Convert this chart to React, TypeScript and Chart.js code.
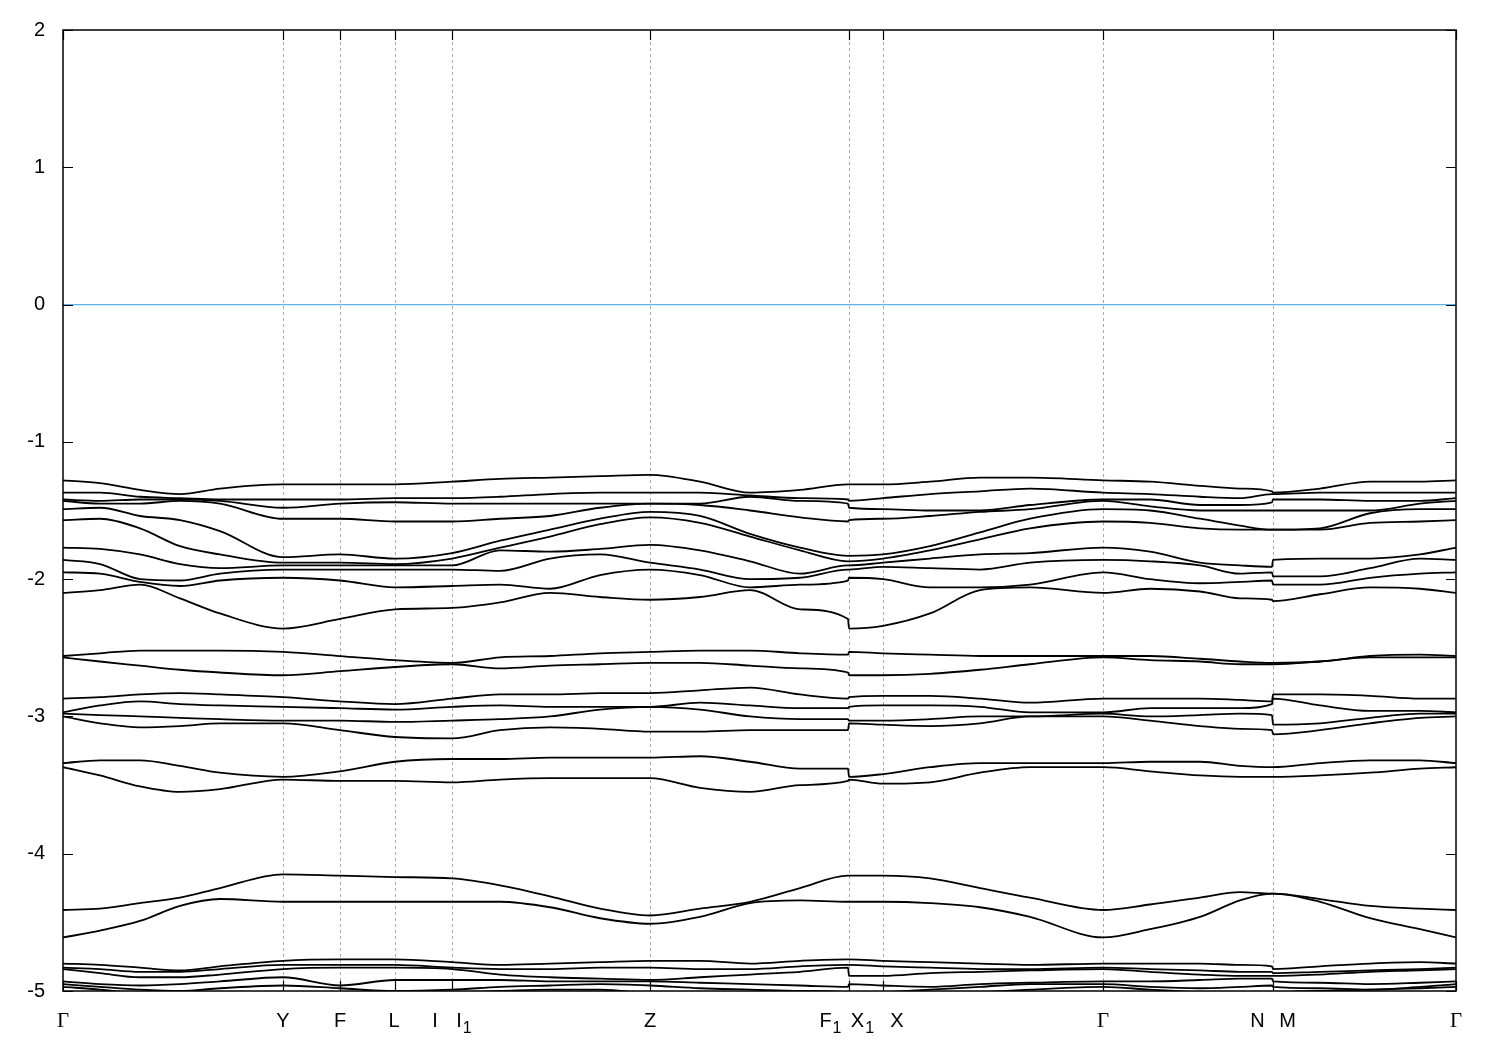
import { useEffect, useRef } from "react";
import { Chart, registerables } from "chart.js";

Chart.register(...registerables);

// k-path coordinate of each sampled point (path-length units); adjacent near-equal values mark path breaks
const K = [0, 37, 77, 117, 157, 220, 277, 332, 389, 437, 487, 537, 587, 637, 687, 737, 785, 786, 820, 867, 917, 967, 1040, 1087, 1137, 1177, 1209, 1210, 1257, 1307, 1357, 1393];

// high-symmetry points
const KPOINTS = [0, 220, 277, 332, 389, 587, 785.5, 820, 1040, 1209.5, 1393];
const KPOINT_LABELS = ["Γ", "Y", "F", "L", "I|I_1", "Z", "F_1|X_1", "X", "Γ", "N|M", "Γ"];

const Y_TICKS = [2, 1, 0, -1, -2, -3, -4, -5];
const FERMI_LEVEL = 0;

// band energies (eV) at each K
const BAND_01 = [-1.28, -1.30, -1.35, -1.38, -1.34, -1.31, -1.31, -1.31, -1.29, -1.27, -1.26, -1.25, -1.24, -1.29, -1.37, -1.35, -1.31, -1.31, -1.31, -1.29, -1.26, -1.26, -1.28, -1.29, -1.32, -1.34, -1.36, -1.37, -1.34, -1.29, -1.29, -1.28];
const BAND_02 = [-1.37, -1.37, -1.40, -1.41, -1.42, -1.42, -1.42, -1.41, -1.41, -1.40, -1.38, -1.37, -1.37, -1.37, -1.39, -1.41, -1.42, -1.43, -1.41, -1.38, -1.36, -1.34, -1.37, -1.38, -1.40, -1.41, -1.38, -1.38, -1.37, -1.37, -1.37, -1.37];
const BAND_03 = [-1.42, -1.43, -1.42, -1.42, -1.43, -1.48, -1.45, -1.44, -1.45, -1.45, -1.45, -1.45, -1.45, -1.45, -1.40, -1.43, -1.45, -1.48, -1.49, -1.50, -1.50, -1.46, -1.42, -1.42, -1.46, -1.46, -1.44, -1.42, -1.42, -1.43, -1.43, -1.41];
const BAND_04 = [-1.43, -1.45, -1.45, -1.43, -1.45, -1.56, -1.56, -1.58, -1.58, -1.56, -1.54, -1.48, -1.45, -1.46, -1.50, -1.55, -1.58, -1.57, -1.56, -1.54, -1.51, -1.49, -1.43, -1.47, -1.50, -1.50, -1.50, -1.50, -1.50, -1.50, -1.45, -1.43];
const BAND_05 = [-1.49, -1.48, -1.54, -1.57, -1.65, -1.84, -1.82, -1.85, -1.81, -1.72, -1.64, -1.56, -1.51, -1.54, -1.67, -1.77, -1.83, -1.83, -1.82, -1.76, -1.66, -1.56, -1.49, -1.50, -1.56, -1.61, -1.64, -1.64, -1.63, -1.52, -1.49, -1.49];
const BAND_06 = [-1.57, -1.56, -1.63, -1.76, -1.82, -1.88, -1.88, -1.89, -1.85, -1.77, -1.69, -1.60, -1.55, -1.59, -1.69, -1.79, -1.87, -1.87, -1.85, -1.79, -1.71, -1.63, -1.58, -1.59, -1.63, -1.64, -1.64, -1.64, -1.64, -1.59, -1.58, -1.57];
const BAND_07 = [-1.77, -1.78, -1.82, -1.89, -1.92, -1.90, -1.90, -1.90, -1.90, -1.79, -1.80, -1.78, -1.75, -1.79, -1.87, -1.96, -1.90, -1.90, -1.88, -1.85, -1.82, -1.81, -1.77, -1.80, -1.88, -1.90, -1.91, -1.86, -1.85, -1.85, -1.82, -1.77];
const BAND_08 = [-1.86, -1.89, -2.00, -2.01, -1.96, -1.93, -1.93, -1.93, -1.93, -1.94, -1.85, -1.82, -1.88, -1.93, -2.00, -1.99, -1.93, -1.93, -1.91, -1.92, -1.93, -1.88, -1.86, -1.87, -1.90, -1.96, -1.95, -1.98, -1.98, -1.92, -1.85, -1.86];
const BAND_09 = [-1.95, -1.96, -2.02, -2.05, -2.01, -1.99, -2.01, -2.06, -2.05, -2.04, -2.07, -1.97, -1.93, -1.97, -2.06, -2.04, -2.01, -1.99, -2.00, -2.06, -2.06, -2.04, -1.95, -2.00, -2.03, -2.02, -2.01, -2.04, -2.04, -1.99, -1.96, -1.95];
const BAND_10 = [-2.10, -2.08, -2.04, -2.14, -2.25, -2.36, -2.29, -2.22, -2.21, -2.17, -2.10, -2.13, -2.15, -2.13, -2.08, -2.22, -2.29, -2.36, -2.34, -2.25, -2.08, -2.06, -2.10, -2.07, -2.09, -2.14, -2.15, -2.16, -2.11, -2.06, -2.07, -2.10];
const BAND_11 = [-2.56, -2.54, -2.52, -2.52, -2.52, -2.53, -2.56, -2.59, -2.61, -2.57, -2.56, -2.54, -2.53, -2.52, -2.52, -2.54, -2.55, -2.53, -2.54, -2.55, -2.56, -2.56, -2.56, -2.56, -2.58, -2.60, -2.61, -2.61, -2.60, -2.56, -2.55, -2.56];
const BAND_12 = [-2.57, -2.60, -2.63, -2.66, -2.68, -2.70, -2.67, -2.64, -2.62, -2.65, -2.63, -2.62, -2.61, -2.61, -2.63, -2.65, -2.68, -2.70, -2.70, -2.69, -2.66, -2.62, -2.57, -2.59, -2.60, -2.62, -2.62, -2.62, -2.60, -2.57, -2.57, -2.57];
const BAND_13 = [-2.87, -2.86, -2.84, -2.83, -2.84, -2.86, -2.89, -2.91, -2.87, -2.84, -2.84, -2.83, -2.83, -2.81, -2.79, -2.84, -2.87, -2.86, -2.85, -2.85, -2.87, -2.90, -2.87, -2.87, -2.87, -2.88, -2.89, -2.84, -2.84, -2.85, -2.87, -2.87];
const BAND_14 = [-2.97, -2.92, -2.89, -2.91, -2.92, -2.93, -2.94, -2.95, -2.93, -2.92, -2.93, -2.93, -2.93, -2.90, -2.92, -2.94, -2.94, -2.93, -2.92, -2.92, -2.93, -2.97, -2.97, -2.94, -2.94, -2.94, -2.91, -2.87, -2.92, -2.96, -2.96, -2.97];
const BAND_15 = [-2.98, -2.99, -3.00, -3.01, -3.02, -3.03, -3.03, -3.04, -3.03, -3.02, -3.00, -2.95, -2.93, -2.95, -3.00, -3.02, -3.02, -3.03, -3.03, -3.02, -3.00, -3.00, -2.98, -3.00, -2.99, -2.98, -2.99, -3.06, -3.05, -3.01, -2.98, -2.98];
const BAND_16 = [-3.00, -3.05, -3.08, -3.07, -3.05, -3.05, -3.10, -3.15, -3.16, -3.10, -3.08, -3.09, -3.11, -3.11, -3.10, -3.10, -3.10, -3.05, -3.06, -3.07, -3.05, -3.00, -3.00, -3.03, -3.07, -3.09, -3.10, -3.13, -3.10, -3.05, -3.01, -3.00];
const BAND_17 = [-3.34, -3.32, -3.32, -3.36, -3.41, -3.44, -3.40, -3.33, -3.31, -3.31, -3.30, -3.30, -3.30, -3.29, -3.33, -3.38, -3.38, -3.44, -3.42, -3.37, -3.34, -3.34, -3.34, -3.33, -3.33, -3.36, -3.37, -3.37, -3.34, -3.32, -3.32, -3.34];
const BAND_18 = [-3.37, -3.43, -3.51, -3.55, -3.53, -3.46, -3.47, -3.47, -3.48, -3.46, -3.45, -3.45, -3.45, -3.52, -3.55, -3.50, -3.47, -3.46, -3.49, -3.48, -3.41, -3.37, -3.37, -3.40, -3.43, -3.44, -3.44, -3.44, -3.43, -3.41, -3.38, -3.37];
const BAND_19 = [-4.41, -4.40, -4.36, -4.32, -4.25, -4.15, -4.16, -4.17, -4.18, -4.23, -4.31, -4.40, -4.45, -4.40, -4.35, -4.25, -4.16, -4.16, -4.16, -4.18, -4.25, -4.32, -4.41, -4.37, -4.32, -4.28, -4.29, -4.29, -4.33, -4.38, -4.40, -4.41];
const BAND_20 = [-4.61, -4.56, -4.49, -4.38, -4.33, -4.35, -4.35, -4.35, -4.35, -4.35, -4.39, -4.47, -4.51, -4.46, -4.36, -4.34, -4.35, -4.35, -4.35, -4.36, -4.39, -4.46, -4.61, -4.55, -4.46, -4.34, -4.29, -4.29, -4.35, -4.47, -4.55, -4.61];
const BAND_21 = [-4.80, -4.81, -4.83, -4.85, -4.82, -4.78, -4.77, -4.77, -4.79, -4.81, -4.80, -4.79, -4.78, -4.78, -4.80, -4.78, -4.77, -4.77, -4.78, -4.79, -4.80, -4.81, -4.80, -4.80, -4.80, -4.81, -4.82, -4.84, -4.82, -4.80, -4.79, -4.80];
const BAND_22 = [-4.83, -4.84, -4.86, -4.86, -4.84, -4.81, -4.81, -4.81, -4.83, -4.84, -4.84, -4.83, -4.83, -4.84, -4.84, -4.82, -4.81, -4.81, -4.82, -4.83, -4.84, -4.84, -4.83, -4.84, -4.85, -4.86, -4.86, -4.87, -4.86, -4.85, -4.84, -4.83];
const BAND_23 = [-4.84, -4.87, -4.90, -4.90, -4.88, -4.84, -4.83, -4.83, -4.84, -4.88, -4.90, -4.91, -4.92, -4.90, -4.88, -4.86, -4.83, -4.89, -4.89, -4.87, -4.86, -4.85, -4.84, -4.86, -4.88, -4.89, -4.89, -4.89, -4.88, -4.86, -4.85, -4.84];
const BAND_24 = [-4.93, -4.95, -4.96, -4.95, -4.93, -4.90, -4.96, -4.92, -4.92, -4.92, -4.93, -4.93, -4.93, -4.94, -4.95, -4.96, -4.97, -4.95, -4.96, -4.97, -4.95, -4.94, -4.93, -4.93, -4.92, -4.91, -4.91, -4.93, -4.94, -4.95, -4.94, -4.93];
const BAND_25 = [-4.95, -4.97, -4.99, -5.00, -4.98, -4.96, -4.98, -5.00, -4.99, -4.97, -4.96, -4.95, -4.96, -4.98, -4.99, -5.00, -5.01, -5.02, -5.01, -4.99, -4.97, -4.95, -4.95, -4.97, -4.98, -4.97, -4.96, -4.97, -4.98, -4.99, -4.97, -4.95];
const BAND_26 = [-4.97, -4.99, -5.02, -5.04, -5.03, -5.01, -5.03, -5.02, -5.01, -5.00, -4.99, -4.99, -5.02, -5.04, -5.02, -5.01, -5.03, -5.05, -5.04, -5.03, -5.01, -4.99, -4.97, -4.99, -5.01, -5.03, -5.04, -5.02, -5.00, -4.99, -4.98, -4.97];

const BANDS = [
  BAND_01, BAND_02, BAND_03, BAND_04, BAND_05, BAND_06, BAND_07, BAND_08, BAND_09, BAND_10,
  BAND_11, BAND_12, BAND_13, BAND_14, BAND_15, BAND_16, BAND_17, BAND_18, BAND_19, BAND_20,
  BAND_21, BAND_22, BAND_23, BAND_24, BAND_25, BAND_26,
];

// pixel shifts of label parts relative to their k-point (style only)
const LABEL_SHIFT: number[][] = [[0], [0], [0], [-1], [-17, 7], [0], [-23, 9], [14], [0], [-15, 15], [0]];

const SANS = '"Liberation Sans", Arial, Helvetica, sans-serif';
const SERIF = '"Liberation Serif", "Times New Roman", serif';

function drawPart(ctx: CanvasRenderingContext2D, part: string, cx: number, cy: number) {
  const [base, sub] = part.split("_");
  const isGreek = base === "Γ";
  ctx.font = isGreek ? `21px ${SERIF}` : `20px ${SANS}`;
  ctx.textAlign = "center";
  ctx.textBaseline = "middle";
  ctx.fillStyle = "#000";
  ctx.fillText(base, cx, cy);
  if (sub) {
    const w = ctx.measureText(base).width;
    ctx.font = `16px ${SANS}`;
    ctx.textAlign = "left";
    ctx.fillText(sub, cx + w / 2 + 1, cy + 8);
  }
}

const bandPlugin = {
  id: "bandDecor",
  beforeDatasetsDraw(chart: any) {
    const { ctx, chartArea: a, scales } = chart;
    const x = scales.x;
    ctx.save();
    ctx.strokeStyle = "#a8a8a8";
    ctx.lineWidth = 1;
    ctx.setLineDash([3, 3]);
    KPOINTS.forEach((k, i) => {
      if (i === 0 || i === KPOINTS.length - 1) return;
      const px = Math.round(x.getPixelForValue(k)) + 0.5;
      ctx.beginPath();
      ctx.moveTo(px, a.top);
      ctx.lineTo(px, a.bottom);
      ctx.stroke();
    });
    ctx.restore();
  },
  afterDatasetsDraw(chart: any) {
    const { ctx, chartArea: a, scales } = chart;
    const x = scales.x;
    const y = scales.y;
    ctx.save();
    ctx.strokeStyle = "#000";
    ctx.lineWidth = 1.5;
    ctx.setLineDash([]);
    ctx.strokeRect(a.left, a.top, a.right - a.left, a.bottom - a.top);
    ctx.lineWidth = 1.2;
    Y_TICKS.forEach((v) => {
      const py = Math.round(y.getPixelForValue(v)) + 0.5;
      ctx.beginPath();
      ctx.moveTo(a.left, py);
      ctx.lineTo(a.left + 10, py);
      ctx.moveTo(a.right, py);
      ctx.lineTo(a.right - 10, py);
      ctx.stroke();
    });
    KPOINTS.forEach((k) => {
      const px = Math.round(x.getPixelForValue(k)) + 0.5;
      ctx.beginPath();
      ctx.moveTo(px, a.bottom);
      ctx.lineTo(px, a.bottom - 10);
      ctx.moveTo(px, a.top);
      ctx.lineTo(px, a.top + 10);
      ctx.stroke();
    });
    KPOINT_LABELS.forEach((label, i) => {
      const px = x.getPixelForValue(KPOINTS[i]);
      const parts = label.split("|");
      parts.forEach((part, j) => {
        drawPart(ctx, part, px + (LABEL_SHIFT[i][j] ?? 0), a.bottom + 30);
      });
    });
    ctx.restore();
  },
};

export default function App() {
  const ref = useRef<HTMLCanvasElement>(null);
  useEffect(() => {
    if (!ref.current) return;
    const datasets: any[] = BANDS.map((band, b) => ({
      label: `band ${b + 1}`,
      data: K.map((k, i) => ({ x: k, y: band[i] })),
      borderColor: "#000",
      borderWidth: 1.8,
      pointRadius: 0,
      fill: false,
      cubicInterpolationMode: "monotone",
    }));
    datasets.push({
      label: "Fermi level",
      data: [
        { x: K[0], y: FERMI_LEVEL },
        { x: K[K.length - 1], y: FERMI_LEVEL },
      ],
      borderColor: "#56b4e9",
      borderWidth: 1.3,
      pointRadius: 0,
      fill: false,
    });
    const chart = new Chart(ref.current, {
      type: "line",
      data: { datasets },
      options: {
        animation: false,
        responsive: false,
        devicePixelRatio: 1,
        layout: { padding: { left: 0, top: 28, right: 44, bottom: 59 } },
        plugins: { legend: { display: false }, tooltip: { enabled: false } },
        scales: {
          x: { type: "linear", min: K[0], max: K[K.length - 1], display: false },
          y: {
            type: "linear",
            min: -5,
            max: 2,
            grid: { display: false, drawTicks: false },
            border: { display: false },
            ticks: {
              stepSize: 1,
              color: "#000",
              padding: 18,
              font: { family: SANS, size: 20 },
              callback: (v: any) => String(v),
            },
            afterFit: (s: any) => {
              s.width = 63;
            },
          },
        },
      },
      plugins: [bandPlugin],
    } as any);
    return () => chart.destroy();
  }, []);
  return (
    <div style={{ position: "absolute", left: 0, top: 0, width: 1500, height: 1050, background: "#fff" }}>
      <canvas ref={ref} width={1500} height={1050} style={{ display: "block" }} />
    </div>
  );
}
